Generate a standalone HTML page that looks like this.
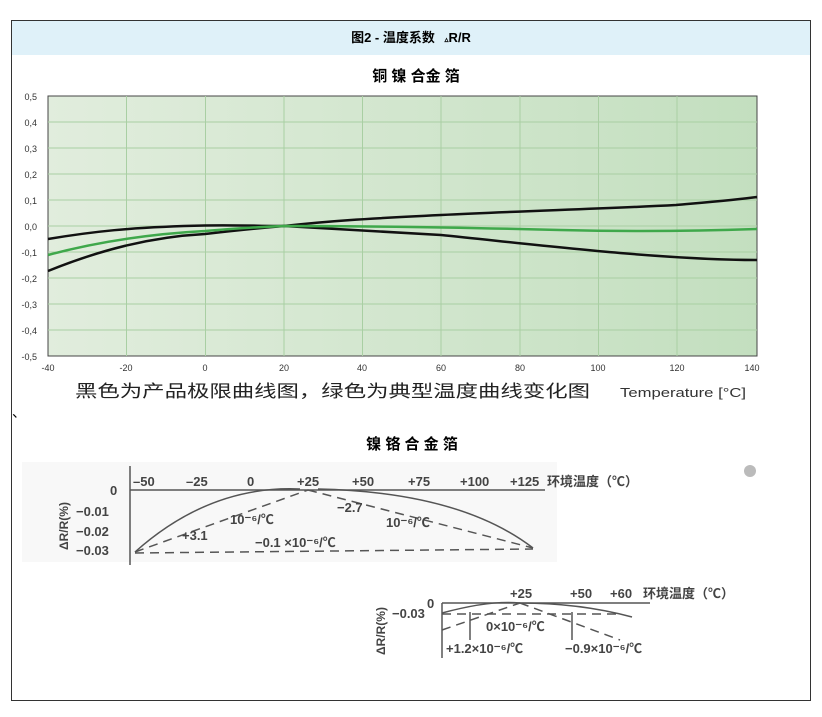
<!DOCTYPE html>
<html><head><meta charset="utf-8"><style>
body{margin:0;background:#fff;width:822px;height:717px;overflow:hidden;font-family:"Liberation Sans","Noto Sans CJK SC",sans-serif;}
</style></head><body>
<svg width="822" height="717" xmlns="http://www.w3.org/2000/svg" style="position:absolute;left:0;top:0">
<defs>
<linearGradient id="g" x1="0" x2="1" y1="0" y2="0">
<stop offset="0" stop-color="#e1eddd"/><stop offset="1" stop-color="#c3dfbf"/>
</linearGradient>
</defs>
<rect x="11.5" y="20.5" width="799" height="680" fill="#fff" stroke="#333"/>
<rect x="12" y="21" width="798" height="34" fill="#dff1f9"/>
<text x="411" y="42" font-size="13" font-weight="bold" text-anchor="middle" font-family="Liberation Sans,Noto Sans CJK SC,sans-serif">图2 - 温度系数 <tspan font-size="8" dx="6">▵</tspan>R/R</text>
<text x="416" y="81" font-size="15" font-weight="bold" text-anchor="middle" font-family="Liberation Sans,Noto Sans CJK SC,sans-serif">铜 镍 合金 箔</text>
<rect x="48" y="96" width="709" height="260" fill="url(#g)" stroke="#444" stroke-width="1"/>
<g stroke="#a9cfa3" stroke-width="1">
<line x1="126.5" y1="96" x2="126.5" y2="356"/><line x1="205.5" y1="96" x2="205.5" y2="356"/><line x1="284" y1="96" x2="284" y2="356"/><line x1="362.5" y1="96" x2="362.5" y2="356"/><line x1="441" y1="96" x2="441" y2="356"/><line x1="520" y1="96" x2="520" y2="356"/><line x1="598.5" y1="96" x2="598.5" y2="356"/><line x1="677" y1="96" x2="677" y2="356"/>
<line x1="48" y1="122" x2="757" y2="122"/><line x1="48" y1="148" x2="757" y2="148"/><line x1="48" y1="174" x2="757" y2="174"/><line x1="48" y1="200" x2="757" y2="200"/><line x1="48" y1="226" x2="757" y2="226"/><line x1="48" y1="252" x2="757" y2="252"/><line x1="48" y1="278" x2="757" y2="278"/><line x1="48" y1="304" x2="757" y2="304"/><line x1="48" y1="330" x2="757" y2="330"/>
</g>
<g font-size="9" fill="#333" text-anchor="end">
<text x="37" y="100">0,5</text><text x="37" y="126">0,4</text><text x="37" y="152">0,3</text><text x="37" y="178">0,2</text><text x="37" y="204">0,1</text><text x="37" y="230">0,0</text><text x="37" y="256">-0,1</text><text x="37" y="282">-0,2</text><text x="37" y="308">-0,3</text><text x="37" y="334">-0,4</text><text x="37" y="360">-0,5</text>
</g>
<g font-size="9" fill="#333" text-anchor="middle">
<text x="48" y="371">-40</text><text x="126" y="371">-20</text><text x="205" y="371">0</text><text x="284" y="371">20</text><text x="362" y="371">40</text><text x="441" y="371">60</text><text x="520" y="371">80</text><text x="598" y="371">100</text><text x="677" y="371">120</text><text x="752" y="371">140</text>
</g>
<g fill="none" stroke-width="2.5">
<path d="M48,239 C90,232 130,227 205,225.5 C240,225 260,226 284,226 C330,221 360,219 441,215 C520,211 600,209 676,205 C710,202 735,200 757,197" stroke="#111"/>
<path d="M48,271 C100,250 150,237 205,234 C240,230 260,228 284,226 C330,229 380,232 441,235 C500,241 560,248 620,253 C680,258 720,260 757,260" stroke="#111"/>
<path d="M48,255 C100,241 150,234 205,231 C240,228 260,227 284,226 C380,226 480,228 560,230 C640,232 700,231 757,229" stroke="#3fa84b"/>
</g>
<text x="75" y="397" font-size="17" fill="#222" textLength="515" lengthAdjust="spacingAndGlyphs" font-family="Liberation Sans,Noto Sans CJK SC,sans-serif">黑色为产品极限曲线图，绿色为典型温度曲线变化图</text>
<text x="620" y="397" font-size="13" fill="#333" textLength="126" lengthAdjust="spacingAndGlyphs">Temperature [°C]</text>
<text x="12" y="417" font-size="14" font-family="Noto Sans CJK SC,sans-serif">、</text>
<text x="412" y="449" font-size="15" font-weight="bold" text-anchor="middle" font-family="Liberation Sans,Noto Sans CJK SC,sans-serif">镍 铬 合 金 箔</text>
<rect x="22" y="462" width="535" height="100" fill="#f8f8f8"/>
<g stroke="#555" fill="none" stroke-width="1.5">
<line x1="130" y1="466" x2="130" y2="565"/>
<line x1="130" y1="490" x2="545" y2="490"/>
<path d="M135,552 Q210,485 300,489"/>
<path d="M318,489 Q460,492 533,548"/>
<g stroke-dasharray="9,6">
<line x1="135" y1="552" x2="308" y2="490"/>
<line x1="308" y1="490" x2="533" y2="548"/>
<line x1="135" y1="553" x2="533" y2="549"/>
</g>
</g>
<g font-size="13" font-weight="bold" fill="#444">
<text x="133" y="486">–50</text><text x="186" y="486">–25</text><text x="247" y="486">0</text><text x="297" y="486">+25</text><text x="352" y="486">+50</text><text x="408" y="486">+75</text><text x="460" y="486">+100</text><text x="510" y="486">+125</text>
<text x="547" y="486" font-family="Liberation Sans,Noto Sans CJK SC,sans-serif">环境温度（℃）</text>
<text x="110" y="495">0</text><text x="76" y="516">−0.01</text><text x="76" y="536">−0.02</text><text x="76" y="555">−0.03</text>
<text x="182" y="540">+3.1</text><text x="230" y="524">10⁻⁶/℃</text><text x="337" y="512">−2.7</text><text x="386" y="527">10⁻⁶/℃</text><text x="255" y="547">−0.1 ×10⁻⁶/℃</text>
<text x="68" y="550" transform="rotate(-90 68 550)" font-size="12">ΔR/R(%)</text>
</g>
<circle cx="750" cy="471" r="6" fill="#bbb"/>
<g stroke="#555" fill="none" stroke-width="1.5">
<line x1="442" y1="603" x2="442" y2="658"/>
<line x1="442" y1="603" x2="650" y2="603"/>
<path d="M442,613 Q490,600 520,603 Q580,603 632,617"/>
<line x1="470" y1="612" x2="470" y2="640"/><line x1="572" y1="612" x2="572" y2="640"/>
<g stroke-dasharray="9,6"><line x1="442" y1="630" x2="520" y2="603"/><line x1="520" y1="603" x2="620" y2="640"/><line x1="442" y1="614" x2="620" y2="614"/></g>
</g>
<g font-size="13" font-weight="bold" fill="#444">
<text x="510" y="598">+25</text><text x="570" y="598">+50</text><text x="610" y="598">+60</text>
<text x="643" y="598" font-family="Liberation Sans,Noto Sans CJK SC,sans-serif">环境温度（℃）</text>
<text x="427" y="608">0</text><text x="392" y="618">−0.03</text>
<text x="486" y="631">0×10⁻⁶/℃</text>
<text x="446" y="653">+1.2×10⁻⁶/℃</text><text x="565" y="653">−0.9×10⁻⁶/℃</text>
<text x="385" y="655" transform="rotate(-90 385 655)" font-size="12">ΔR/R(%)</text>
</g>
</svg>
</body></html>
